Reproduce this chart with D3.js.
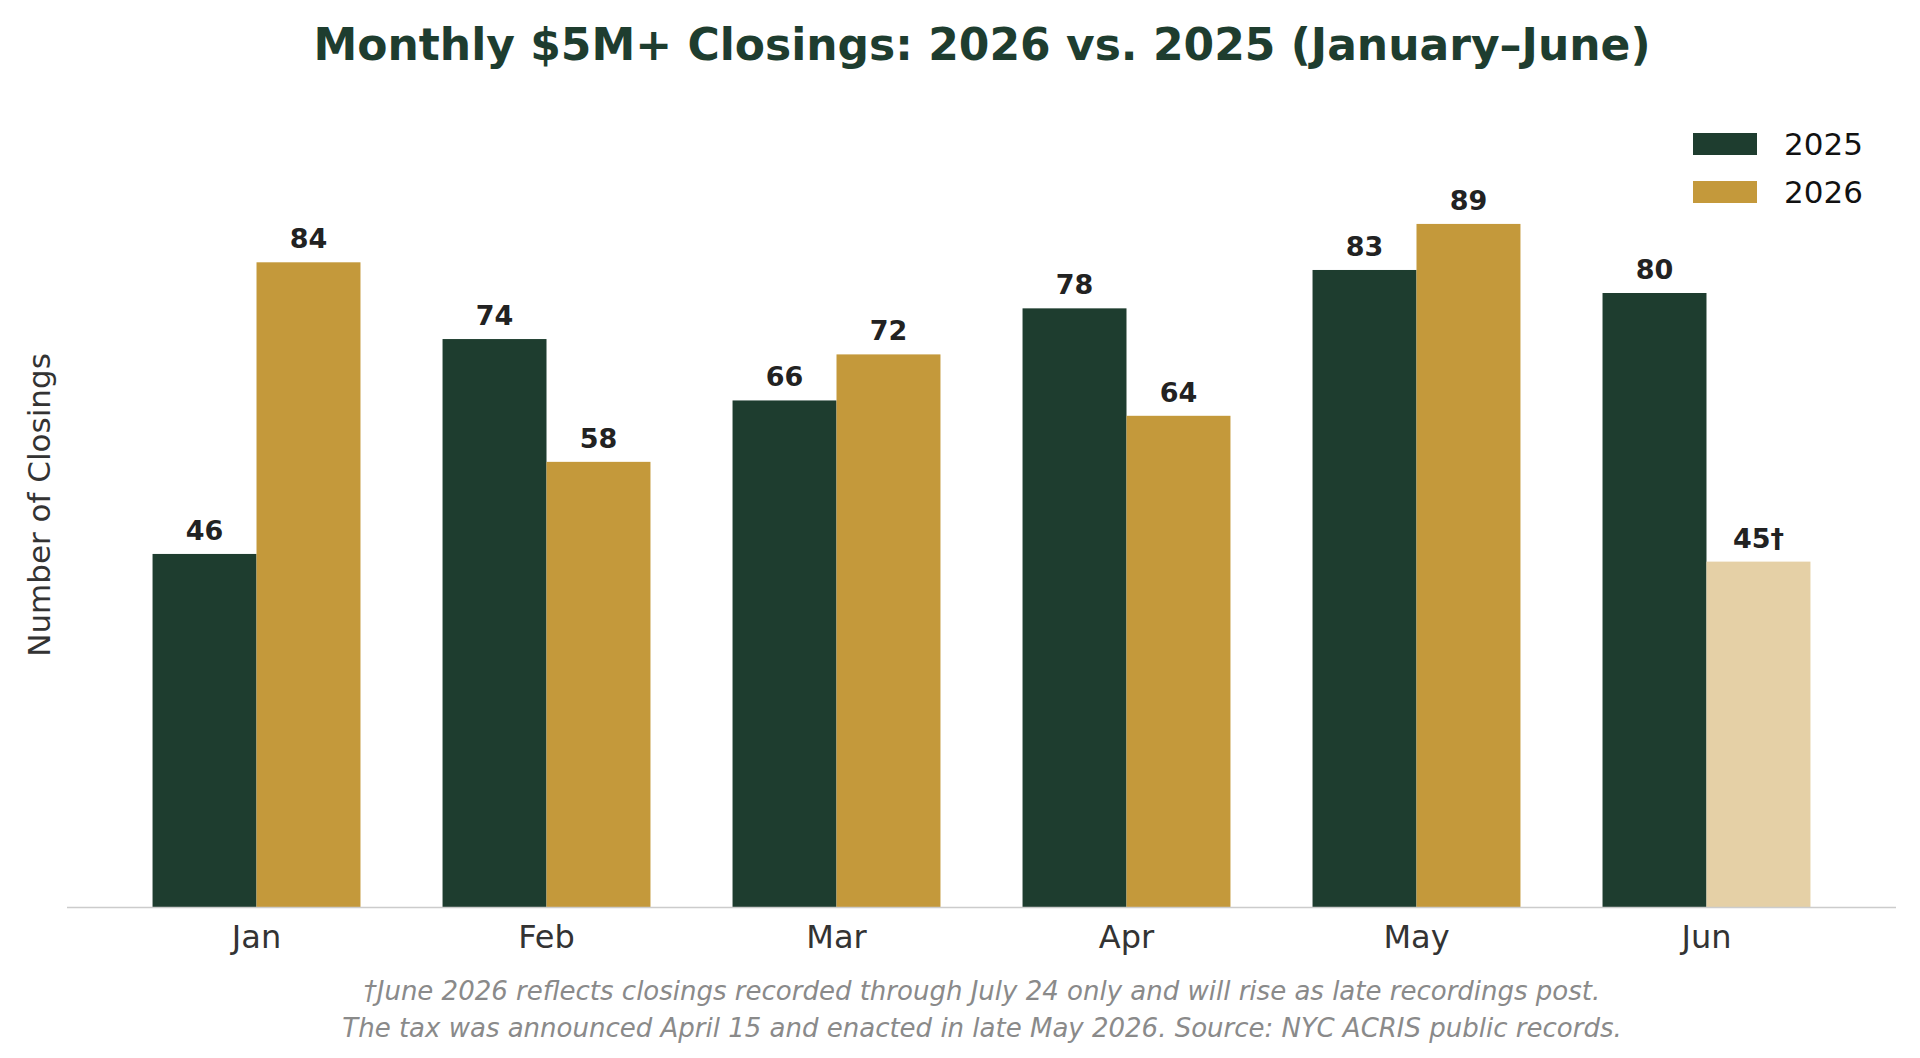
<!DOCTYPE html>
<html><head><meta charset="utf-8">
<script src="https://cdn.jsdelivr.net/npm/d3@7"></script>
<style>body{margin:0;background:#fff}svg{display:block;font-family:"DejaVu Sans",sans-serif}</style>
</head><body><svg id="c" width="1920" height="1058"></svg>
<script>
const months = ["Jan", "Feb", "Mar", "Apr", "May", "Jun"];
const v2025 = [46, 74, 66, 78, 83, 80];
const v2026 = [84, 58, 72, 64, 89, 45];
const labels2026 = ["84", "58", "72", "64", "89", "45\u2020"];
const series = ["2025", "2026"];
const dark = "#1e3d2f", gold = "#c4993b", pale = "#e5d0a6";

const svg = d3.select("#c");
const base = 907;
const x = d3.scaleBand().domain(months).range([67, 1896]).paddingInner(0.283).paddingOuter(0.295);
const xs = d3.scaleBand().domain(series).range([0, x.bandwidth()]);
const y = d3.scaleLinear().domain([0, 105]).range([base, base - 105 * 7.675]);

svg.append("text").attr("x", 982).attr("y", 60).attr("text-anchor", "middle")
  .attr("font-size", 44).attr("font-weight", "bold").attr("fill", dark)
  .text("Monthly $5M+ Closings: 2026 vs. 2025 (January\u2013June)");

const rows = months.map((m, i) => [
  {m, s: "2025", v: v2025[i], lab: String(v2025[i]), c: dark},
  {m, s: "2026", v: v2026[i], lab: labels2026[i], c: m === "Jun" ? pale : gold}
]).flat();

const g = svg.append("g");
g.selectAll("rect").data(rows).join("rect")
  .attr("x", d => x(d.m) + xs(d.s)).attr("width", xs.bandwidth())
  .attr("y", d => y(d.v)).attr("height", d => base - y(d.v)).attr("fill", d => d.c);
g.selectAll("text").data(rows).join("text")
  .attr("x", d => x(d.m) + xs(d.s) + xs.bandwidth() / 2).attr("y", d => y(d.v) - 14)
  .attr("text-anchor", "middle").attr("font-size", 27).attr("font-weight", "bold").attr("fill", "#222")
  .text(d => d.lab);

svg.append("line").attr("x1", 67).attr("x2", 1896).attr("y1", base + 0.5).attr("y2", base + 0.5)
  .attr("stroke", "#ccc").attr("stroke-width", 1.5);
const ax = svg.append("g").attr("transform", `translate(0,${base})`)
  .call(d3.axisBottom(x).tickSize(0).tickPadding(18));
ax.select(".domain").remove();
ax.selectAll("text").attr("font-size", 32).attr("fill", "#333").attr("font-family", "DejaVu Sans");

svg.append("text").attr("transform", "translate(50,505) rotate(-90)").attr("text-anchor", "middle")
  .attr("font-size", 31).attr("fill", "#333").text("Number of Closings");

const lg = svg.append("g").selectAll("g").data(series).join("g")
  .attr("transform", (d, i) => `translate(1693,${133 + i * 48})`);
lg.append("rect").attr("width", 64).attr("height", 22).attr("fill", (d, i) => i ? gold : dark);
lg.append("text").attr("x", 91).attr("y", 11).attr("dy", "0.35em").attr("font-size", 31).attr("fill", "#111").text(d => d);

const notes = ["\u2020June 2026 reflects closings recorded through July 24 only and will rise as late recordings post.",
  "The tax was announced April 15 and enacted in late May 2026. Source: NYC ACRIS public records."];
svg.selectAll("text.note").data(notes).join("text").attr("class", "note")
  .attr("x", 982).attr("y", (d, i) => 1000 + i * 37).attr("text-anchor", "middle")
  .attr("font-size", 26).attr("font-style", "italic").attr("fill", "#8a8a8a").text(d => d);
</script></body></html>
